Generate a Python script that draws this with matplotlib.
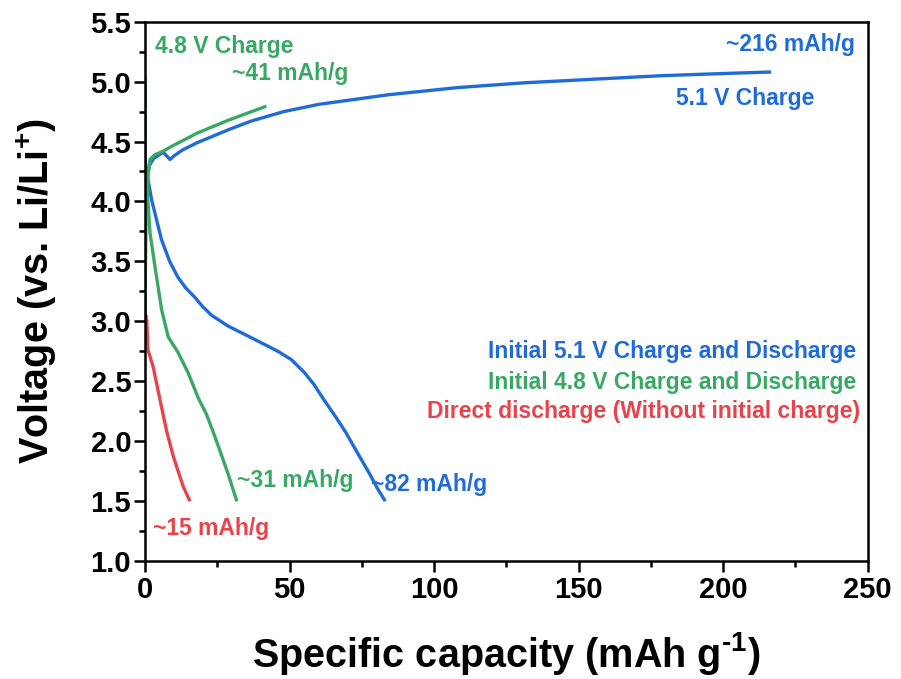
import matplotlib
matplotlib.use('Agg')
import matplotlib.pyplot as plt
from matplotlib.ticker import MultipleLocator

plt.rcParams['font.family'] = ['Liberation Sans', 'DejaVu Sans']
plt.rcParams['font.weight'] = 'bold'
plt.rcParams['mathtext.fontset'] = 'custom'
plt.rcParams['mathtext.rm'] = 'Liberation Sans:bold'
plt.rcParams['mathtext.it'] = 'Liberation Sans:bold'
plt.rcParams['mathtext.bf'] = 'Liberation Sans:bold'

# curves (capacity in mAh/g, voltage in V)
blue_chg_x = [0, 0.2, 0.6, 1.5, 3, 5, 6.3, 7.5, 8.6, 10, 13, 18, 29, 36.6, 48, 60, 84, 108, 131, 155, 179, 203, 216]
blue_chg_y = [3.05, 3.9, 4.2, 4.3, 4.36, 4.39, 4.41, 4.38, 4.35, 4.38, 4.43, 4.49, 4.6, 4.67, 4.75, 4.81, 4.89, 4.95, 4.99, 5.02, 5.05, 5.07, 5.08]
blue_dis_x = [0, 0, 0.6, 2.3, 5.7, 8.5, 11.3, 14, 17.2, 20, 23, 28.7, 34.5, 40.2, 45.9, 50.6, 55.2, 58.5, 62, 66, 69.5, 74, 77.6, 80.5, 82.8]
blue_dis_y = [5.02, 4.35, 4.24, 4.01, 3.68, 3.5, 3.37, 3.28, 3.2, 3.12, 3.05, 2.96, 2.89, 2.82, 2.75, 2.68, 2.57, 2.47, 2.34, 2.2, 2.07, 1.88, 1.73, 1.6, 1.51]

green_chg_x = [0, 0.3, 1, 1.7, 3.4, 6.3, 10, 18, 29, 41.4]
green_chg_y = [3.1, 3.9, 4.2, 4.35, 4.39, 4.42, 4.47, 4.57, 4.68, 4.79]
green_dis_x = [0, 0.5, 1.0, 1.7, 3.4, 5.7, 8.0, 11.4, 14.9, 18.4, 21.3, 23.5, 25.9, 28.8, 31.6]
green_dis_y = [4.3, 4.15, 4.0, 3.74, 3.46, 3.1, 2.87, 2.74, 2.57, 2.36, 2.22, 2.08, 1.92, 1.72, 1.51]

red_dis_x = [0, 0.3, 0.6, 1, 2.8, 5.2, 7.5, 9.8, 13.2, 15.3]
red_dis_y = [3.05, 3.05, 3.0, 2.76, 2.62, 2.34, 2.08, 1.87, 1.62, 1.51]

blue = '#1f6bd8'
green = '#3aa865'
red = '#e8424a'

fig = plt.figure(figsize=(9.01, 6.79), dpi=100)
ax = fig.add_axes([0.161, 0.174, 0.802, 0.794])

lw = 2.4
ax.plot(blue_chg_x, blue_chg_y, color=blue, lw=lw)
ax.plot(blue_dis_x, blue_dis_y, color=blue, lw=lw)
ax.plot(green_chg_x, green_chg_y, color=green, lw=lw)
ax.plot(green_dis_x, green_dis_y, color=green, lw=lw)
ax.plot(red_dis_x, red_dis_y, color=red, lw=lw)

ax.set_xlim(0, 250)
ax.set_ylim(1.0, 5.5)
ax.xaxis.set_major_locator(MultipleLocator(50))
ax.xaxis.set_minor_locator(MultipleLocator(25))
ax.yaxis.set_major_locator(MultipleLocator(0.5))
ax.yaxis.set_minor_locator(MultipleLocator(0.25))
ax.yaxis.set_major_formatter(plt.FormatStrFormatter('%.1f'))

for s in ax.spines.values():
    s.set_linewidth(1.8)
ax.tick_params(which='major', direction='out', length=8, width=1.8, labelsize=21)
ax.tick_params(axis='y', which='major', pad=2)
ax.tick_params(axis='x', which='major', pad=3)
ax.tick_params(which='minor', direction='out', length=4, width=1.8)

ax.set_xlabel('Specific capacity (mAh g$^{\\text{-}1}$)', fontsize=28.5, fontweight='bold', va='center')
ax.set_ylabel('Voltage (vs. Li/Li$^{+}$)', fontsize=28.5, fontweight='bold', va='center')
ax.xaxis.set_label_coords(0.5, -0.172)
ax.yaxis.set_label_coords(-0.15, 0.5)

fs = 16.5
ax.text(3.4, 5.29, '4.8 V Charge', color=green, fontsize=fs, fontweight='bold', va='center')
ax.text(30, 5.07, '~41 mAh/g', color=green, fontsize=fs, fontweight='bold', va='center')
ax.text(245.5, 5.31, '~216 mAh/g', color=blue, fontsize=fs, fontweight='bold', va='center', ha='right')
ax.text(231.4, 4.86, '5.1 V Charge', color=blue, fontsize=fs, fontweight='bold', va='center', ha='right')
ax.text(31.7, 1.67, '~31 mAh/g', color=green, fontsize=fs, fontweight='bold', va='center')
ax.text(78.3, 1.64, '~82 mAh/g', color=blue, fontsize=fs, fontweight='bold', va='center')
ax.text(2.8, 1.27, '~15 mAh/g', color=red, fontsize=fs, fontweight='bold', va='center')

ax.text(245.9, 2.75, 'Initial 5.1 V Charge and Discharge', color=blue, fontsize=fs, fontweight='bold', va='center', ha='right')
ax.text(245.9, 2.49, 'Initial 4.8 V Charge and Discharge', color=green, fontsize=fs, fontweight='bold', va='center', ha='right')
ax.text(247.3, 2.25, 'Direct discharge (Without initial charge)', color=red, fontsize=fs, fontweight='bold', va='center', ha='right')

fig.savefig('out.png', dpi=100)
